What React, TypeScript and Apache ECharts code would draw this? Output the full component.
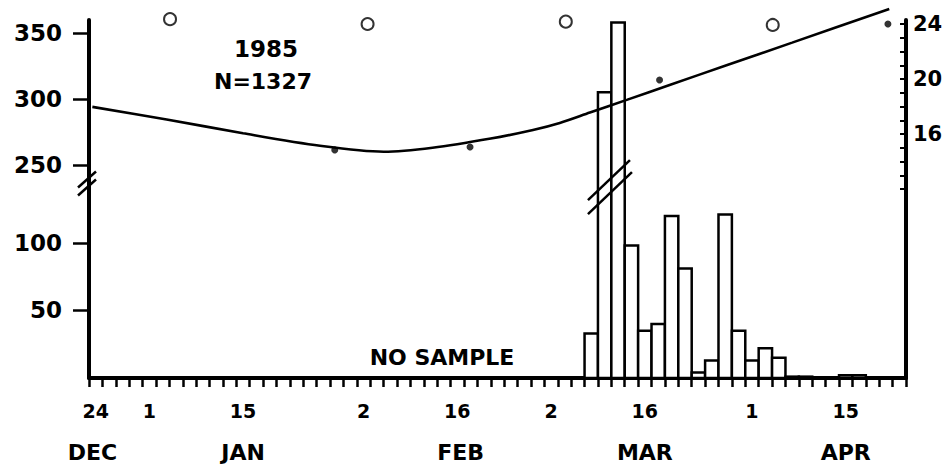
import React, { useEffect, useRef } from "react";
import * as echarts from "echarts";

// ---- tick labels ----
const dayTickLabels = ["24", "1", "15", "2", "16", "2", "16", "1", "15"];
const dayTickPos = [1, 9, 23, 41, 55, 69, 83, 99, 113]; // days since Dec 24 (bin centres)
const monthLabels = ["DEC", "JAN", "FEB", "MAR", "APR"];
const monthPos = [0.5, 23, 55.5, 83, 113];
const leftTickValues = [50, 100, 250, 300, 350];
const rightTickLabelValues = [16, 20, 24];

// ---- histogram (2-day bins, start day since Dec 24) ----
const binStart = [74, 76, 78, 80, 82, 84, 86, 88, 90, 92, 94, 96, 98, 100, 102, 104, 106, 112, 114];
const binCounts = [33, 305, 358, 98, 35, 40, 120, 81, 4, 13, 121, 35, 13, 22, 15, 1, 1, 2, 2];

// ---- fitted curve (left upper scale) ----
const curveDay = [0.5, 11.6, 23, 34.5, 44, 51.3, 60, 66.3, 70.3, 74.8, 80.3, 86.7, 95.2, 105, 119.5];
const curveVal = [294, 284.5, 274, 264.5, 260, 263, 270, 276.5, 281.8, 289.7, 299.3, 310.6, 325.5, 342.7, 368.2];

// ---- filled dots (left upper scale) ----
const dotDay = [36.7, 56.9, 85.2, 119.3];
const dotVal = [261.4, 263.6, 314.4, 356.8];

// ---- open circles (right scale) ----
const circleDay = [12.1, 41.6, 71.2, 102.1];
const circleVal = [24.36, 24.01, 24.18, 23.94];

// broken left axis: lower part linear, upper part shifted
const BREAK = 150;
const toDisp = (v: number) => (v <= BREAK ? v : 157.7 + (v - 250) * 0.977);

const FONT = "DejaVu Sans";

export default function App() {
  const ref = useRef<HTMLDivElement>(null);

  useEffect(() => {
    if (!ref.current) return;
    const chart = echarts.init(ref.current, undefined, { renderer: "svg" });

    const leftDisp = leftTickValues.map(toDisp);
    const xTicks: number[] = [];
    for (let d = 0; d <= 122; d += 2) xTicks.push(d);
    const rTicks: number[] = [];
    for (let r = 12; r <= 24; r += 1) rTicks.push(r);

    const bars = binStart.map((s, i) => [s, s + 2, toDisp(binCounts[i])]);

    const option: any = {
      animation: false,
      backgroundColor: "#fff",
      grid: { left: 89, right: 41, top: 20, bottom: 91, outerBoundsMode: "none", containLabel: false },
      xAxis: [
        {
          type: "value",
          min: 0,
          max: 122,
          interval: 2,
          position: "bottom",
          splitLine: { show: false },
          axisLine: { show: true, onZero: false, lineStyle: { color: "#000", width: 4 } },
          axisTick: {
            show: true,
            inside: false,
            length: 9,
            customValues: xTicks,
            lineStyle: { color: "#000", width: 2.5 },
          },
          axisLabel: {
            customValues: dayTickPos,
            margin: 23,
            color: "#000",
            fontFamily: FONT,
            fontWeight: "bold",
            fontSize: 19,
            formatter: (v: number) => {
              const i = dayTickPos.findIndex((p) => Math.abs(p - v) < 1e-6);
              return i >= 0 ? dayTickLabels[i] : "";
            },
          },
        },
        {
          type: "value",
          min: 0,
          max: 122,
          position: "bottom",
          splitLine: { show: false },
          axisLine: { show: false, onZero: false },
          axisTick: { show: false },
          axisLabel: {
            customValues: monthPos,
            margin: 63,
            color: "#000",
            fontFamily: FONT,
            fontWeight: "bold",
            fontSize: 22,
            formatter: (v: number) => {
              const i = monthPos.findIndex((p) => Math.abs(p - v) < 1e-6);
              return i >= 0 ? monthLabels[i] : "";
            },
          },
        },
      ],
      yAxis: [
        {
          type: "value",
          min: 0,
          max: 265,
          position: "left",
          splitLine: { show: false },
          axisLine: { show: true, onZero: false, lineStyle: { color: "#000", width: 4 } },
          axisTick: {
            show: true,
            inside: false,
            length: 16,
            customValues: leftDisp,
            lineStyle: { color: "#000", width: 2.5 },
          },
          axisLabel: {
            customValues: leftDisp,
            margin: 27,
            color: "#000",
            fontFamily: FONT,
            fontWeight: "bold",
            fontSize: 23,
            formatter: (v: number) => {
              const i = leftDisp.findIndex((p) => Math.abs(p - v) < 1e-6);
              return i >= 0 ? String(leftTickValues[i]) : "";
            },
          },
        },
        {
          type: "value",
          min: -1.75,
          max: 24.3,
          position: "right",
          splitLine: { show: false },
          axisLine: { show: true, onZero: false, lineStyle: { color: "#000", width: 4 } },
          axisTick: {
            show: true,
            inside: true,
            length: 6,
            customValues: rTicks,
            lineStyle: { color: "#000", width: 2 },
          },
          axisLabel: {
            customValues: rightTickLabelValues,
            margin: 7,
            color: "#000",
            fontFamily: FONT,
            fontWeight: "bold",
            fontSize: 21,
          },
        },
      ],
      series: [
        {
          type: "custom",
          name: "counts",
          xAxisIndex: 0,
          yAxisIndex: 0,
          data: bars,
          encode: { x: [0, 1], y: 2 },
          renderItem: (params: any, api: any) => {
            const tl = api.coord([api.value(0), api.value(2)]);
            const br = api.coord([api.value(1), 0]);
            return {
              type: "rect",
              shape: { x: tl[0], y: tl[1], width: br[0] - tl[0], height: br[1] - tl[1] },
              style: { fill: "#fff", stroke: "#000", lineWidth: 2.5 },
            };
          },
        },
        {
          type: "line",
          name: "curve",
          xAxisIndex: 0,
          yAxisIndex: 0,
          data: curveDay.map((d, i) => [d, toDisp(curveVal[i])]),
          smooth: 0.3,
          showSymbol: false,
          symbol: "none",
          clip: false,
          lineStyle: { color: "#000", width: 2.6 },
          z: 3,
        },
        {
          type: "scatter",
          name: "dots",
          xAxisIndex: 0,
          yAxisIndex: 0,
          data: dotDay.map((d, i) => [d, toDisp(dotVal[i])]),
          symbol: "circle",
          symbolSize: 7,
          clip: false,
          itemStyle: { color: "#000" },
          z: 4,
        },
        {
          type: "scatter",
          name: "circles",
          xAxisIndex: 0,
          yAxisIndex: 1,
          data: circleDay.map((d, i) => [d, circleVal[i]]),
          symbol: "circle",
          symbolSize: 12,
          clip: false,
          itemStyle: { color: "#fff", borderColor: "#000", borderWidth: 2 },
          z: 4,
        },
        {
          type: "custom",
          name: "breaks",
          xAxisIndex: 0,
          yAxisIndex: 0,
          data: [
            [0, 144, 0],
            [76, 139, 1],
          ],
          encode: { x: 0, y: 1 },
          z: 5,
          renderItem: (params: any, api: any) => {
            const p = api.coord([api.value(0), api.value(1)]);
            const kind = api.value(2);
            const segs =
              kind === 0
                ? [
                    [-11, 4, 7, -12],
                    [-11, 12, 7, -4],
                  ]
                : [
                    [-10, 10, 32, -30],
                    [-10, 24, 34, -18],
                  ];
            return {
              type: "group",
              children: segs.map((s) => ({
                type: "line",
                shape: { x1: p[0] + s[0], y1: p[1] + s[1], x2: p[0] + s[2], y2: p[1] + s[3] },
                style: { stroke: "#000", lineWidth: 2.5 },
              })),
            };
          },
        },
      ],
      graphic: [
        {
          type: "text",
          x: 266,
          y: 49,
          style: { text: "1985", fill: "#000", font: `bold 23px "${FONT}"`, align: "center", verticalAlign: "middle" },
        },
        {
          type: "text",
          x: 263,
          y: 81,
          style: { text: "N=1327", fill: "#000", font: `bold 22px "${FONT}"`, align: "center", verticalAlign: "middle" },
        },
        {
          type: "text",
          x: 442,
          y: 357,
          style: { text: "NO SAMPLE", fill: "#000", font: `bold 22px "${FONT}"`, align: "center", verticalAlign: "middle" },
        },
      ],
    };

    chart.setOption(option);
    return () => chart.dispose();
  }, []);

  return (
    <div
      ref={ref}
      style={{ position: "fixed", left: 0, top: 0, width: 947, height: 469, background: "#fff" }}
    />
  );
}
